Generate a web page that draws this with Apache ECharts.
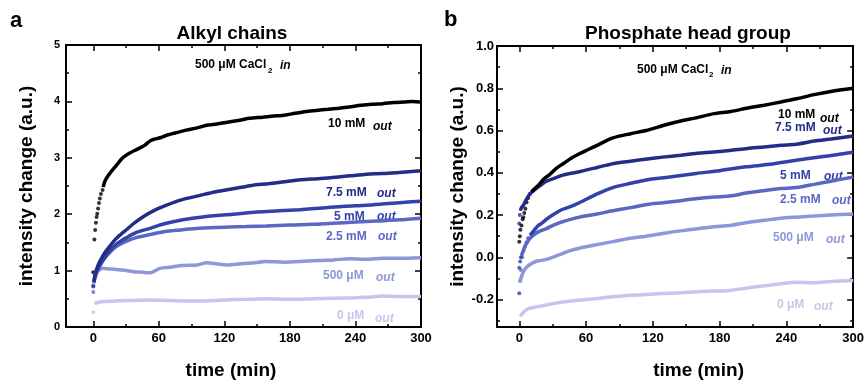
<!DOCTYPE html>
<html><head><meta charset="utf-8">
<script src="https://cdn.jsdelivr.net/npm/echarts@6/dist/echarts.min.js"></script>
<style>html,body{margin:0;padding:0;background:#fff}#c{width:867px;height:385px}</style>
</head><body><div id="c"></div>
<script>
// ---------- tick values ----------
const xMajorValues = [0,60,120,180,240,300];
const xMinorValues = [30,90,150,210,270];
const aYMajorValues = [0,1,2,3,4,5];
const aYMinorValues = [0.5,1.5,2.5,3.5,4.5];
const bYMajorValues = [-0.2,0,0.2,0.4,0.6,0.8,1.0];
const bYMinorValues = [-0.3,-0.1,0.1,0.3,0.5,0.7,0.9];

// ---------- panel a: Alkyl chains ----------
const a10Early = [[0,0.97],[1,1.55],[1.7,1.72],[2.4,1.85],[3,1.95],[3.6,2.01],[4.4,2.1],[5.2,2.2],[6,2.28],[7,2.36],[8.5,2.43]];
const a10 = [[9,2.48],[11,2.6],[15,2.72],[20,2.84],[27,3.0],[33,3.08],[40,3.15],[47,3.22],[52,3.3],[56,3.33],[62,3.36],[67,3.4],[75,3.44],[85,3.49],[95,3.53],[105,3.58],[113,3.6],[125,3.64],[135,3.67],[143,3.7],[155,3.72],[165,3.74],[173,3.75],[185,3.79],[195,3.82],[204,3.84],[215,3.86],[225,3.88],[234,3.9],[245,3.93],[255,3.95],[265,3.96],[275,3.98],[285,3.99],[292,4.0],[300,3.99]];
const a75Early = [[0,0.72]];
const a75 = [[0.5,0.8],[2,0.95],[4,1.08],[7,1.2],[10,1.3],[15,1.43],[20,1.55],[25,1.64],[30,1.72],[38,1.85],[46,1.96],[55,2.06],[67,2.16],[80,2.25],[97,2.33],[110,2.39],[128,2.45],[145,2.51],[160,2.54],[173,2.57],[190,2.61],[205,2.63],[219,2.65],[235,2.68],[250,2.71],[265,2.72],[280,2.74],[300,2.77]];
const a5 = [[0.5,0.8],[1.5,0.91],[3,1.0],[6,1.09],[10,1.22],[15,1.35],[20,1.45],[25,1.52],[30,1.58],[40,1.68],[52,1.75],[65,1.83],[82,1.9],[100,1.95],[128,2.0],[150,2.04],[170,2.06],[189,2.08],[210,2.11],[230,2.14],[250,2.16],[270,2.19],[285,2.21],[300,2.23]];
const a25Early = [[0,0.74],[0,0.62]];
const a25 = [[0.5,0.78],[2,0.9],[4,1.0],[6,1.09],[10,1.21],[15,1.32],[20,1.41],[25,1.47],[30,1.52],[40,1.59],[52,1.64],[65,1.69],[80,1.72],[97,1.75],[120,1.77],[140,1.78],[158,1.79],[180,1.81],[200,1.82],[219,1.84],[240,1.86],[260,1.88],[280,1.9],[300,1.93]];
const a500 = [[1,0.9],[3,0.97],[6,1.02],[9,1.04],[15,1.03],[21,1.02],[30,1.0],[37,0.98],[45,0.97],[52,0.96],[56,0.99],[61,1.04],[70,1.06],[82,1.09],[95,1.1],[104,1.14],[113,1.12],[122,1.1],[135,1.12],[148,1.14],[158,1.16],[175,1.15],[189,1.16],[205,1.18],[220,1.19],[234,1.21],[250,1.2],[265,1.22],[280,1.22],[300,1.23]];
const a0Early = [[0,0.26]];
const a0 = [[1,0.42],[5,0.44],[10,0.45],[20,0.46],[30,0.47],[52,0.48],[70,0.47],[97,0.46],[120,0.48],[140,0.49],[158,0.5],[180,0.49],[200,0.5],[219,0.51],[240,0.52],[255,0.53],[265,0.55],[280,0.54],[300,0.54]];

// ---------- panel b: Phosphate head group ----------
const b10Early = [[0,0.074],[0.5,0.1],[1,0.13],[2,0.15],[3,0.18],[3.6,0.19],[4.5,0.21],[5.5,0.23],[6.5,0.26],[8,0.28],[9.6,0.3]];
const b10 = [[11,0.31],[15,0.33],[18,0.345],[22,0.37],[27,0.39],[33,0.42],[40,0.445],[47,0.47],[54,0.49],[62,0.51],[70,0.53],[84,0.565],[100,0.585],[114,0.6],[130,0.625],[145,0.645],[159,0.66],[175,0.68],[190,0.69],[204,0.705],[220,0.72],[235,0.735],[249,0.75],[265,0.77],[280,0.785],[300,0.8]];
const b75Early = [[0,0.16],[0.5,0.2]];
const b75 = [[1,0.22],[2,0.235],[3.6,0.245],[6,0.27],[9.6,0.3],[14,0.32],[19,0.34],[24.5,0.36],[32,0.375],[40,0.39],[54,0.405],[70,0.425],[84,0.443],[100,0.455],[115,0.465],[129,0.474],[145,0.483],[160,0.492],[175,0.498],[189,0.505],[205,0.515],[220,0.522],[235,0.53],[249,0.535],[265,0.55],[280,0.56],[300,0.574]];
const b5Early = [[0,-0.17],[0,-0.05],[0.8,-0.02],[1.5,0.0],[2.5,0.015],[3.6,0.028],[5,0.05],[6.5,0.07],[8,0.09]];
const b5 = [[9.6,0.105],[13,0.125],[17,0.15],[20,0.16],[24.5,0.18],[30,0.2],[38,0.225],[46,0.24],[54,0.258],[70,0.3],[84,0.33],[100,0.35],[114,0.366],[135,0.38],[159,0.397],[180,0.41],[204,0.428],[225,0.44],[249,0.459],[270,0.475],[285,0.485],[300,0.497]];
const b25Early = [[0.8,-0.11],[1.5,-0.06],[2.5,0.0]];
const b25 = [[3.6,0.028],[5,0.05],[7,0.07],[9.6,0.09],[14,0.11],[19,0.125],[24.5,0.136],[32,0.155],[40,0.17],[54,0.19],[70,0.205],[84,0.22],[100,0.235],[115,0.25],[129,0.258],[145,0.268],[160,0.278],[175,0.285],[189,0.29],[205,0.305],[219,0.315],[235,0.325],[249,0.33],[265,0.345],[280,0.36],[300,0.38]];
const b500 = [[0.5,-0.12],[1.5,-0.1],[3.6,-0.07],[6,-0.05],[9.6,-0.034],[15,-0.02],[24.5,-0.01],[35,0.01],[45,0.03],[54,0.043],[70,0.06],[84,0.074],[100,0.09],[114,0.1],[129,0.113],[145,0.125],[160,0.135],[175,0.145],[189,0.15],[205,0.165],[220,0.175],[235,0.185],[249,0.19],[265,0.195],[280,0.2],[300,0.205]];
const b0 = [[0.8,-0.28],[3,-0.265],[6,-0.25],[9.6,-0.241],[15,-0.235],[24.5,-0.226],[35,-0.215],[45,-0.208],[54,-0.203],[70,-0.195],[84,-0.187],[100,-0.18],[114,-0.176],[129,-0.172],[145,-0.168],[160,-0.163],[175,-0.16],[189,-0.157],[205,-0.145],[220,-0.135],[235,-0.125],[249,-0.118],[265,-0.12],[280,-0.115],[300,-0.11]];

const seriesNames = ['10 mM','7.5 mM','5 mM','2.5 mM','500 μM','0 μM'];
const col = {c10:'#000000', c75:'#232c86', c5:'#3342a8', c25:'#5a68c2', c500:'#8e97d8', c0:'#c3c7ec'};

const FONT = 'Liberation Sans, Arial, sans-serif';

function lineS(name, data, color, g, w){
  return {name, type:'line', data, xAxisIndex:g*4, yAxisIndex:g*4, smooth:0.3, showSymbol:false,
    lineStyle:{color, width:w}, itemStyle:{color}, silent:true};
}
function dotS(name, data, color, g){
  return {name, type:'scatter', data, xAxisIndex:g*4, yAxisIndex:g*4, symbolSize:4,
    itemStyle:{color}, silent:true};
}
const frame = {show:true, onZero:false, lineStyle:{color:'#000', width:2}};
const noLine = {show:false, onZero:false};
function tickCfg(vals, len){ return {show:true, inside:true, length:len, customValues:vals, lineStyle:{color:'#000', width:1.5}}; }

function xAxes(g, min, pad){
  const base = {gridIndex:g, type:'value', min, max:300, splitLine:{show:false}};
  return [
    {...base, position:'bottom', axisLine:frame, axisTick:tickCfg(xMajorValues,6),
     axisLabel:{customValues:xMajorValues, margin:5, color:'#000', fontSize:13, fontWeight:'bold', fontFamily:FONT},
     name:'time (min)', nameLocation:'middle', nameGap:34,
     nameTextStyle:{color:'#000', fontSize:19, fontWeight:'bold', fontFamily:FONT, padding:pad}},
    {...base, position:'top', axisLine:frame, axisTick:tickCfg(xMajorValues,6), axisLabel:{show:false}},
    {...base, position:'bottom', axisLine:noLine, axisTick:tickCfg(xMinorValues,3), axisLabel:{show:false}},
    {...base, position:'top', axisLine:noLine, axisTick:tickCfg(xMinorValues,3), axisLabel:{show:false}}
  ];
}
function yAxes(g, min, max, major, minor, fs, margin, fmt, gap){
  const base = {gridIndex:g, type:'value', min, max, splitLine:{show:false}};
  return [
    {...base, position:'left', axisLine:frame, axisTick:tickCfg(major,6),
     axisLabel:{customValues:major, margin, color:'#000', fontSize:fs, fontWeight:'bold', fontFamily:FONT, formatter:fmt},
     name:'intensity change (a.u.)', nameLocation:'middle', nameGap:gap,
     nameTextStyle:{color:'#000', fontSize:19, fontWeight:'bold', fontFamily:FONT}},
    {...base, position:'right', axisLine:frame, axisTick:tickCfg(major,6), axisLabel:{show:false}},
    {...base, position:'left', axisLine:noLine, axisTick:tickCfg(minor,3), axisLabel:{show:false}},
    {...base, position:'right', axisLine:noLine, axisTick:tickCfg(minor,3), axisLabel:{show:false}}
  ];
}

function txt(x, y, text, fill, size, italic){
  return {type:'text', x, y, silent:true, style:{text, fill, font:(italic?'italic ':'')+'bold '+size+'px '+FONT, verticalAlign:'middle', align:'left'}};
}

const graphics = [
  txt(10, 21, 'a', '#000', 22),
  txt(444, 20, 'b', '#000', 22),
  // panel a annotations
  txt(195, 65, '500 μM CaCl', '#000', 12),
  txt(268, 71, '2', '#000', 8),
  txt(280, 66, 'in', '#000', 12, true),
  txt(328, 124, seriesNames[0], col.c10, 12), txt(373, 127, 'out', col.c10, 12, true),
  txt(326, 193, seriesNames[1], col.c75, 12), txt(377, 194, 'out', col.c75, 12, true),
  txt(334, 217, seriesNames[2], col.c5, 12), txt(377, 217, 'out', col.c5, 12, true),
  txt(326, 237, seriesNames[3], col.c25, 12), txt(378, 237, 'out', col.c25, 12, true),
  txt(323, 276, seriesNames[4], col.c500, 12), txt(376, 278, 'out', col.c500, 12, true),
  txt(337, 316, seriesNames[5], col.c0, 12), txt(375, 319, 'out', col.c0, 12, true),
  // panel b annotations
  txt(637, 70, '500 μM CaCl', '#000', 12),
  txt(709, 75, '2', '#000', 8),
  txt(721, 71, 'in', '#000', 12, true),
  txt(778, 115, seriesNames[0], col.c10, 12), txt(820, 119, 'out', col.c10, 12, true),
  txt(775, 128, seriesNames[1], col.c75, 12), txt(823, 131, 'out', col.c75, 12, true),
  txt(780, 176, seriesNames[2], col.c5, 12), txt(824, 177, 'out', col.c5, 12, true),
  txt(780, 200, seriesNames[3], col.c25, 12), txt(832, 201, 'out', col.c25, 12, true),
  txt(773, 238, seriesNames[4], col.c500, 12), txt(826, 240, 'out', col.c500, 12, true),
  txt(777, 305, seriesNames[5], col.c0, 12), txt(814, 307, 'out', col.c0, 12, true)
];

const option = {
  animation:false,
  backgroundColor:'#fff',
  title:[
    {text:'Alkyl chains', left:227, top:19, textAlign:'center', textStyle:{fontSize:19, fontWeight:'bold', color:'#000', fontFamily:FONT}},
    {text:'Phosphate head group', left:683, top:19, textAlign:'center', textStyle:{fontSize:19, fontWeight:'bold', color:'#000', fontFamily:FONT}}
  ],
  grid:[
    {left:66, right:446, top:45, bottom:52.5},
    {left:497, right:13, top:46, bottom:51.7}
  ],
  xAxis:[...xAxes(0, -25, [0,25,0,0]), ...xAxes(1, -20, [0,0,0,47])],
  yAxis:[
    ...yAxes(0, 0, 5, aYMajorValues, aYMinorValues, 11, 6, v=>String(v), 30),
    ...yAxes(1, -0.33, 1.0, bYMajorValues, bYMinorValues, 13, 3, v=>v.toFixed(1), 30)
  ],
  series:[
    lineS(seriesNames[5], a0, col.c0, 0, 3.5), dotS(seriesNames[5], a0Early, col.c0, 0),
    lineS(seriesNames[4], a500, col.c500, 0, 3.5),
    lineS(seriesNames[3], a25, col.c25, 0, 3.5), dotS(seriesNames[3], a25Early, col.c25, 0),
    lineS(seriesNames[2], a5, col.c5, 0, 3.5),
    lineS(seriesNames[1], a75, col.c75, 0, 3.5), dotS(seriesNames[1], a75Early, col.c75, 0),
    lineS(seriesNames[0], a10, col.c10, 0, 3.5), dotS(seriesNames[0], a10Early, col.c10, 0),

    lineS(seriesNames[5], b0, col.c0, 1, 3.5),
    lineS(seriesNames[4], b500, col.c500, 1, 3.5),
    lineS(seriesNames[3], b25, col.c25, 1, 3.5), dotS(seriesNames[3], b25Early, col.c25, 1),
    lineS(seriesNames[2], b5, col.c5, 1, 3.5), dotS(seriesNames[2], b5Early, col.c5, 1),
    lineS(seriesNames[1], b75, col.c75, 1, 3.5), dotS(seriesNames[1], b75Early, col.c75, 1),
    lineS(seriesNames[0], b10, col.c10, 1, 3.5), dotS(seriesNames[0], b10Early, col.c10, 1)
  ],
  graphic: graphics
};
const chart = echarts.init(document.getElementById('c'), null, {renderer:'canvas'});
chart.setOption(option);
</script>
</body></html>
